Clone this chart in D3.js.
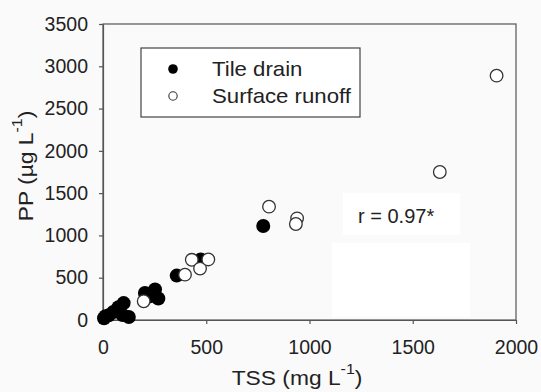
<!DOCTYPE html>
<meta charset="utf-8">
<style>
body { margin: 0; background: #fafafa; font-family: Arial, "Liberation Sans", sans-serif; }
.axis text { font-size: 19.5px; fill: #222; font-family: Arial, "Liberation Sans", sans-serif; }
.axis path, .axis line { stroke: #555; stroke-width: 1.2; }
</style>
<body>
<script src="https://d3js.org/d3.v7.min.js"></script>
<script>

// tile drain samples (TSS mg/L, PP ug/L)
var tileTSS = [5, 12, 28, 50, 75, 100, 95, 125, 203, 228, 252, 268, 357, 473, 776];
var tilePP  = [20, 45, 55, 95, 150, 200, 60, 35, 320, 280, 360, 255, 525, 715, 1112];

// surface runoff samples
var surfTSS = [197, 397, 430, 470, 510, 804, 940, 934, 1631, 1906];
var surfPP  = [222, 536, 712, 608, 716, 1340, 1202, 1135, 1750, 2889];

var xTicks = [0, 500, 1000, 1500, 2000];
var yTicks = [0, 500, 1000, 1500, 2000, 2500, 3000, 3500];
var seriesNames = ["Tile drain", "Surface runoff"];

var W = 541, H = 392;
var margin = {top: 24, right: 25, bottom: 72, left: 103},
    width = W - margin.left - margin.right,
    height = H - margin.top - margin.bottom;

var x = d3.scaleLinear().domain([0, 2000]).range([0, width]);
var y = d3.scaleLinear().domain([0, 3500]).range([height, 0]);

var svg = d3.select("body").append("svg")
    .attr("width", W)
    .attr("height", H)
  .append("g")
    .attr("transform", "translate(" + margin.left + "," + margin.top + ")");

// pale patches behind the r label (as in the scanned figure)
svg.append("rect").attr("x", 240).attr("y", 169).attr("width", 117).attr("height", 42).attr("fill", "#fff");
svg.append("rect").attr("x", 229).attr("y", 219).attr("width", 138).attr("height", 74).attr("fill", "#fff");

// frame
svg.append("rect")
    .attr("width", width).attr("height", height)
    .attr("fill", "none").attr("stroke", "#555").attr("stroke-width", 1.2);

svg.append("g")
    .attr("class", "axis")
    .attr("transform", "translate(0," + height + ")")
    .call(d3.axisBottom(x).tickValues(xTicks).tickSize(4).tickSizeOuter(0).tickPadding(16).tickFormat(d3.format("d")));

svg.append("g")
    .attr("class", "axis")
    .call(d3.axisLeft(y).tickValues(yTicks).tickSize(4).tickSizeOuter(0).tickPadding(11).tickFormat(d3.format("d")));

// points
var tile = tileTSS.map(function(d, i) { return [d, tilePP[i]]; });
var surf = surfTSS.map(function(d, i) { return [d, surfPP[i]]; });

svg.append("g").selectAll("circle")
    .data(tile)
    .enter().append("circle")
      .attr("cx", function(d) { return x(d[0]); })
      .attr("cy", function(d) { return y(d[1]); })
      .attr("r", 7)
      .attr("fill", "#000");

svg.append("g").selectAll("circle")
    .data(surf)
    .enter().append("circle")
      .attr("cx", function(d) { return x(d[0]); })
      .attr("cy", function(d) { return y(d[1]); })
      .attr("r", 6.3)
      .attr("fill", "#fff")
      .attr("stroke", "#333")
      .attr("stroke-width", 1.3);

// legend
var lg = svg.append("g").attr("transform", "translate(38,24)");
lg.append("rect")
    .attr("width", 219).attr("height", 69)
    .attr("fill", "#fff").attr("stroke", "#444").attr("stroke-width", 1.2);
var items = lg.selectAll("g.item")
    .data(seriesNames)
    .enter().append("g")
      .attr("class", "item")
      .attr("transform", function(d, i) { return "translate(0," + (21 + i * 27) + ")"; });
items.append("circle")
    .attr("cx", 32).attr("cy", 0).attr("r", function(d, i) { return i ? 4.2 : 4.8; })
    .attr("fill", function(d, i) { return i ? "#fff" : "#000"; })
    .attr("stroke", function(d, i) { return i ? "#333" : "none"; })
    .attr("stroke-width", 1.1);
items.append("text")
    .attr("transform", "translate(71,7) scale(1.11,1)")
    .style("font-size", "20px").style("fill", "#222")
    .text(function(d) { return d; });

// r label
svg.append("text")
    .attr("x", 255).attr("y", 199)
    .style("font-size", "20px").style("fill", "#222")
    .text("r = 0.97*");

// axis titles (the scan is a little stretched sideways)
var xt = svg.append("text")
    .attr("transform", "translate(194," + (height + 65) + ") scale(1.14,1)")
    .style("font-size", "20px").style("fill", "#222")
    .attr("text-anchor", "middle");
xt.append("tspan").text("TSS (mg L");
xt.append("tspan").attr("dy", -11).style("font-size", "14px").text("-1");
xt.append("tspan").attr("dy", 11).text(")");

var yt = svg.append("text")
    .attr("transform", "translate(-70," + (166 - margin.top) + ") rotate(-90) scale(1.14,1)")
    .style("font-size", "20px").style("fill", "#222")
    .attr("text-anchor", "middle");
yt.append("tspan").text("PP (\u00b5g L");
yt.append("tspan").attr("dy", -11).style("font-size", "14px").text("-1");
yt.append("tspan").attr("dy", 11).text(")");

</script>
</body>
